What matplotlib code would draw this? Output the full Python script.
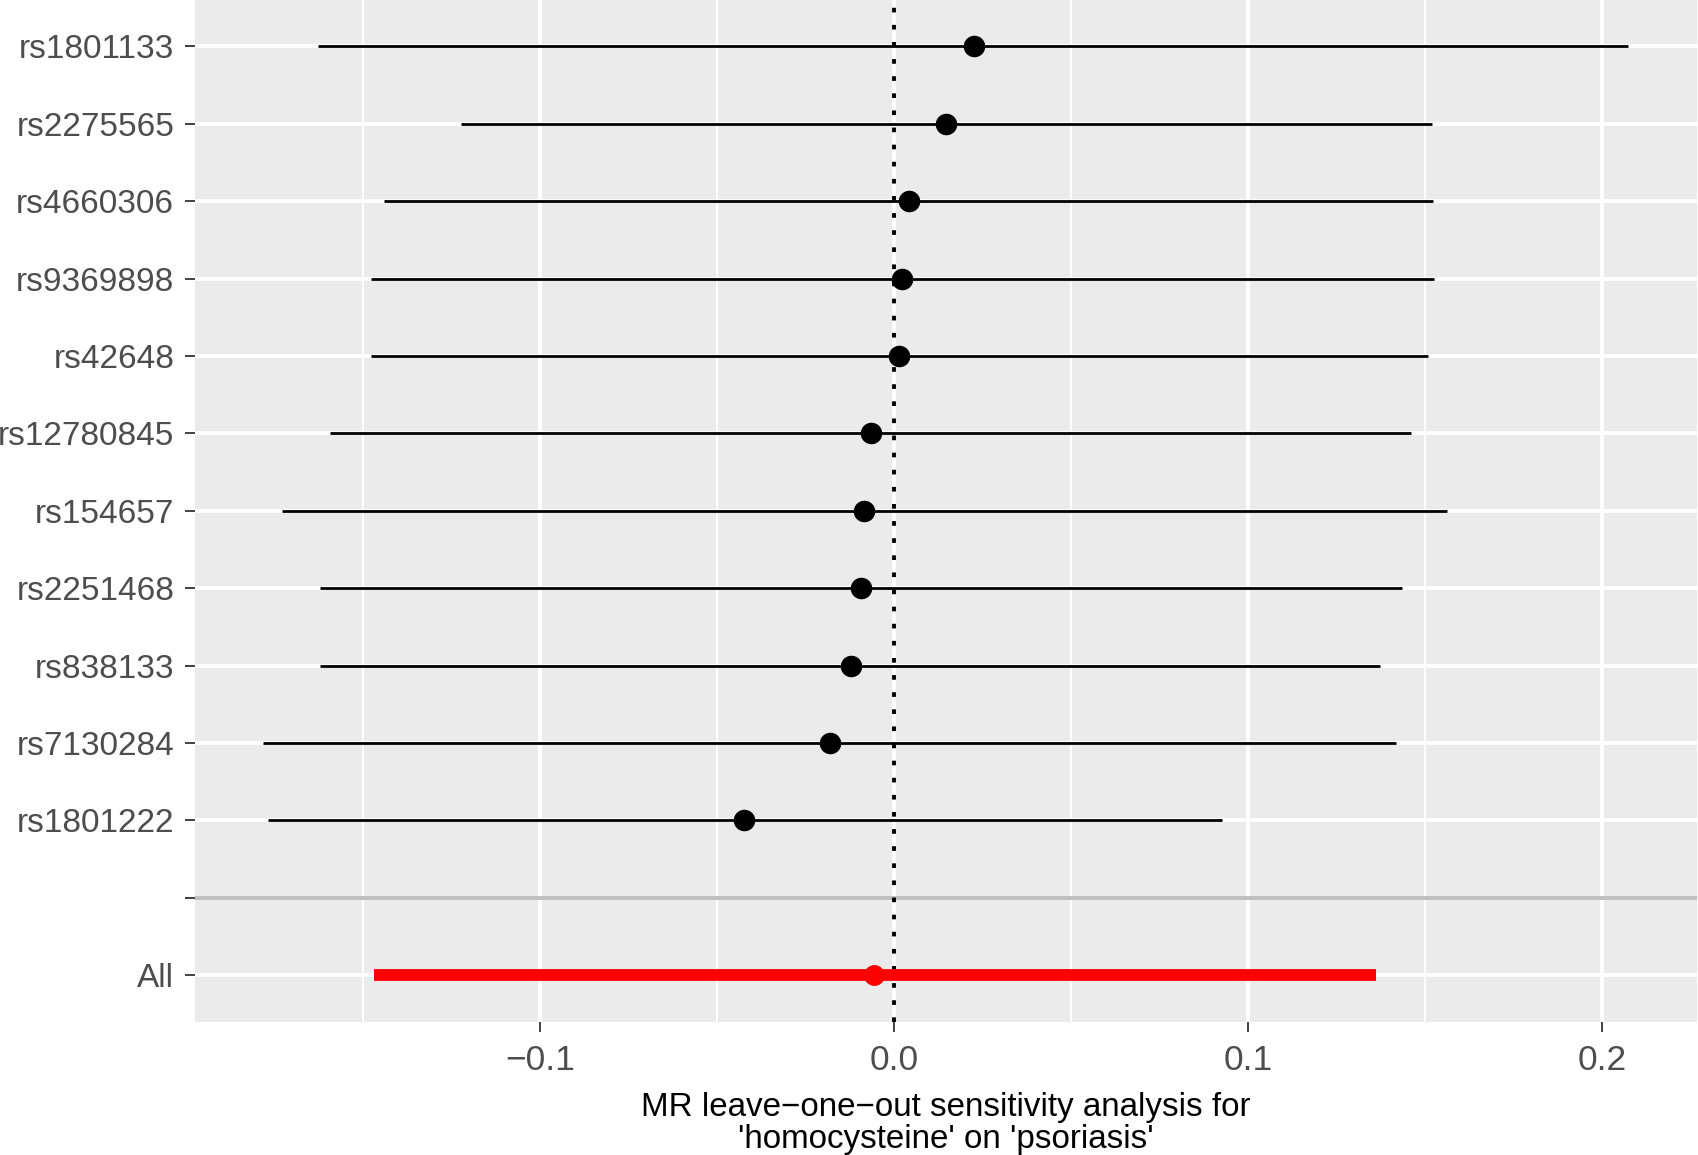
import numpy as np
import matplotlib
matplotlib.use("Agg")
import matplotlib.pyplot as plt

plt.rcParams['font.family'] = ['Liberation Sans', 'DejaVu Sans']

# SNPs, top to bottom; "" is the spacer row before the pooled estimate
snps = ["rs1801133", "rs2275565", "rs4660306", "rs9369898", "rs42648",
        "rs12780845", "rs154657", "rs2251468", "rs838133", "rs7130284",
        "rs1801222"]
b = [0.0227, 0.0147, 0.0043, 0.0024, 0.0015, -0.0064, -0.0083, -0.0092,
     -0.0122, -0.0181, -0.0422]
lo = [-0.1628, -0.1224, -0.1439, -0.1478, -0.1478, -0.1592, -0.1729,
      -0.1622, -0.1622, -0.1781, -0.1769]
hi = [0.2075, 0.1521, 0.1524, 0.1527, 0.1509, 0.1460, 0.1561, 0.1436,
      0.1374, 0.1417, 0.0927]

all_b = -0.0055
all_lo = -0.1469
all_hi = 0.1362

labels = snps + ["", "All"]
ypos = np.arange(len(labels))

fig = plt.figure(figsize=(16.99, 11.55), dpi=100)
ax = fig.add_axes([0.1148, 0.1154, 0.8839, 0.8846])
ax.set_facecolor('#EBEBEB')

ax.set_xlim(-0.1974, 0.2268)
ax.set_ylim(len(labels) - 1 + 0.6, -0.6)

# grid
for x in [-0.1, 0.0, 0.1, 0.2]:
    ax.axvline(x, color='white', lw=2.8, zorder=0)
for x in [-0.15, -0.05, 0.05, 0.15]:
    ax.axvline(x, color='white', lw=1.4, zorder=0)
for y in ypos:
    ax.axhline(y, color='white', lw=2.8, zorder=0)

# separator line for the spacer row
ax.axhline(ypos[len(snps)], color='grey', lw=2.8, alpha=0.5, zorder=1)

# zero reference
ax.axvline(0, color='black', lw=2.8, linestyle=(0, (1.2, 3.2)), zorder=2)

# leave-one-out estimates
y_snp = ypos[:len(snps)]
ax.hlines(y_snp, lo, hi, color='black', lw=2.0, zorder=3)
ax.plot(b, y_snp, 'o', color='black', ms=14.5, zorder=4)

# pooled estimate
y_all = ypos[-1]
ax.hlines(y_all, all_lo, all_hi, color='red', lw=8.5, zorder=3)
ax.plot(all_b, y_all, 'o', color='red', ms=14, zorder=4)

ax.set_yticks(ypos)
ax.set_yticklabels(labels)
ax.set_xticks([-0.1, 0.0, 0.1, 0.2])
ax.set_xticklabels(['\u22120.1', '0.0', '0.1', '0.2'])

ax.tick_params(axis='both', colors='#333333', length=7, width=1.3,
               labelcolor='#4D4D4D')
ax.tick_params(axis='y', pad=8, labelsize=24)
ax.tick_params(axis='x', pad=9, labelsize=25.5)

for s in ax.spines.values():
    s.set_visible(False)

ax.set_xlabel("MR leave\u2212one\u2212out sensitivity analysis for\n"
              "'homocysteine' on 'psoriasis'", fontsize=23.9,
              color='black', labelpad=11, linespacing=1.05)

fig.savefig('out.png', dpi=100)
